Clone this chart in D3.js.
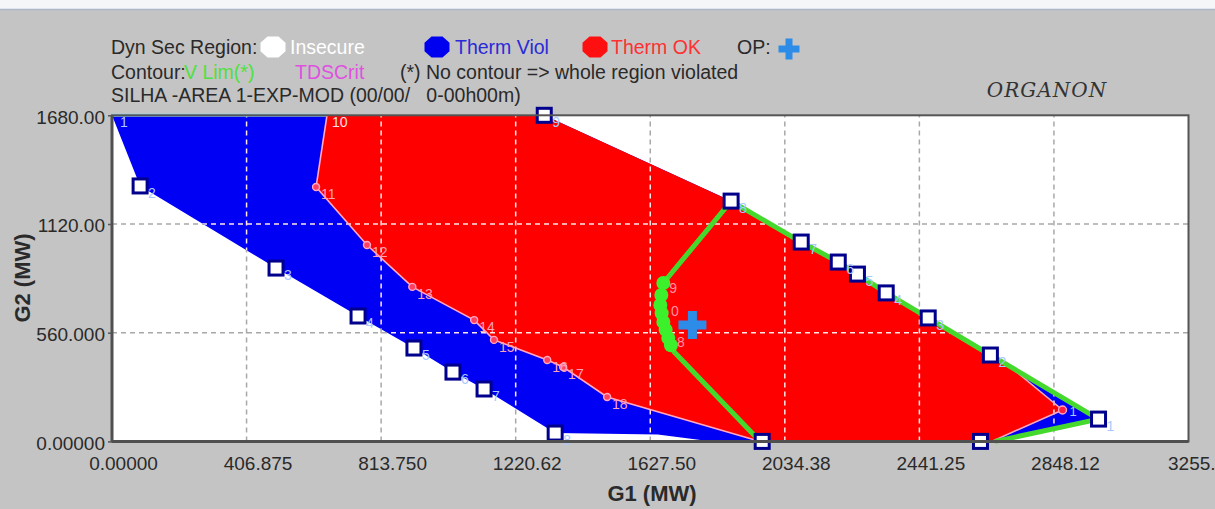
<!DOCTYPE html>
<html>
<head>
<meta charset="utf-8">
<script src="https://cdn.jsdelivr.net/npm/d3@7"></script>
<style>
  html, body { margin: 0; padding: 0; background: #c4c4c4; }
  svg { display: block; }
  text { font-family: "Liberation Sans", Arial, sans-serif; }
</style>
</head>
<body>
<script>
// ---- Axis ticks ----
const xTicks = [0, 406.875, 813.75, 1220.625, 1627.5, 2034.375, 2441.25, 2848.125, 3255];
const xTickLabels = ["0.00000", "406.875", "813.750", "1220.62", "1627.50", "2034.38", "2441.25", "2848.12", "3255."];
const yTicks = [0, 560, 1120, 1680];
const yTickLabels = ["0.00000", "560.000", "1120.00", "1680.00"];

// ---- Lower boundary of the secure region (insecure below/left), G1/G2 in MW ----
const stabG1 = [0, 85, 496, 744, 913, 1031, 1125, 1340, 1650, 1815, 1960];
const stabG2 = [1680, 1316, 893, 646, 481, 357, 270, 43, 35, 0, 0];

// ---- Upper boundary of the secure region, from the bottom-right corner to the top ----
const upperG1 = [2670, 2983, 2716, 2656, 2468, 2341, 2254, 2196, 2084, 1872, 1307];
const upperG2 = [0, 115, 385, 445, 636, 765, 862, 924, 1027, 1238, 1680];

// ---- Thermal limit (Therm Viol / Therm OK border) ----
const thermG1 = [650, 617, 771, 908, 1095, 1155, 1316, 1364, 1497, 1960];
const thermG2 = [1680, 1311, 1012, 796, 625, 523, 419, 383, 229, 0];
const thermLbl = ["10", "11", "12", "13", "14", "15", "16", "17", "18", ""];
const therm2G1 = [2660, 2874, 2716];
const therm2G2 = [0, 162, 385];

// ---- Voltage-limit contour ----
const vlimG1 = [1960, 1700, 1682, 1667, 1658, 1661, 1667, 1872, 2084, 2196, 2254, 2341, 2468, 2656, 2716, 2983, 2670];
const vlimG2 = [0, 461, 533, 615, 703, 754, 816, 1238, 1027, 924, 862, 765, 636, 445, 385, 115, 0];
const vdotG1 = [1667, 1661, 1658, 1662, 1667, 1674, 1682, 1690];
const vdotG2 = [816, 754, 703, 660, 615, 575, 533, 495];
const vLblG1 = [1667, 1672, 1690];
const vLblG2 = [816, 700, 540];
const vLbl = ["9", "0", "8"];

// ---- Boundary points (square markers) ----
const sqG1 = [85, 496, 744, 913, 1031, 1125, 1340, 1966, 2626, 2983, 2656, 2468, 2341, 2254, 2196, 2084, 1872, 1307];
const sqG2 = [1316, 893, 646, 481, 357, 270, 43, 0, 0, 115, 445, 636, 765, 862, 924, 1027, 1238, 1680];
const sqLbl = ["2", "3", "4", "5", "6", "7", "8", "", "", "1", "2", "3", "4", "5", "6", "7", "8", "9"];

// ---- Operating point ----
const opG1 = [1755];
const opG2 = [600];

const W = 1215, H = 509;
const svg = d3.select("body").append("svg").attr("width", W).attr("height", H);

const x = d3.scaleLinear().domain([0, 3255]).range([112, 1188.5]);
const y = d3.scaleLinear().domain([0, 1680]).range([441.4, 115.3]);
const pts = (gx, gy) => gx.map((v, i) => [x(v), y(gy[i])]);
const line = d3.line();

// window strip at the top
svg.append("rect").attr("x", 0).attr("y", 0).attr("width", W).attr("height", 9).attr("fill", "#f4f6f8");
svg.append("line").attr("x1", 0).attr("x2", W).attr("y1", 9.5).attr("y2", 9.5).attr("stroke", "#aab8c8").attr("stroke-width", 1.5);

// plot background
svg.append("rect").attr("x", x(0)).attr("y", y(1680)).attr("width", x(3255) - x(0)).attr("height", y(0) - y(1680)).attr("fill", "#ffffff");

// grid (grey on white)
const grid = svg.append("g");
function drawGrid(g, color) {
  g.selectAll(".gx").data(xTicks.slice(1, -1)).join("line")
    .attr("x1", d => x(d)).attr("x2", d => x(d)).attr("y1", y(0)).attr("y2", y(1680))
    .attr("stroke", color).attr("stroke-width", 1.5).attr("stroke-dasharray", "5,4");
  g.selectAll(".gy").data(yTicks.slice(1, -1)).join("line")
    .attr("x1", x(0)).attr("x2", x(3255)).attr("y1", d => y(d)).attr("y2", d => y(d))
    .attr("stroke", color).attr("stroke-width", 1.5).attr("stroke-dasharray", "5,4");
}
drawGrid(grid, "#a8a8a8");

// secure region outline (union of Therm Viol and Therm OK)
const outer = pts(stabG1, stabG2).concat(pts(upperG1, upperG2));
svg.append("clipPath").attr("id", "secure").append("path").attr("d", line(outer) + "Z");
svg.append("path").attr("d", line(outer) + "Z").attr("fill", "#0000f4");

// Therm OK region
const thermPts = pts(thermG1, thermG2);
const redPoly = thermPts
  .concat(pts(therm2G1, therm2G2))
  .concat(pts(upperG1.slice(3), upperG2.slice(3)));
svg.append("path").attr("d", line(redPoly) + "Z").attr("fill", "#ff0000");

// grid over the coloured regions
const grid2 = svg.append("g").attr("clip-path", "url(#secure)");
drawGrid(grid2, "#ffe8e8");

// insecure boundary along the top edge
svg.append("path").attr("d", line(pts([0, 650], [1680, 1680]))).attr("stroke", "#8cd4f4").attr("stroke-width", 3).attr("fill", "none");
svg.append("path").attr("d", line(pts([1650, 1815, 1960], [0, 0, 0]))).attr("stroke", "#8cd4f4").attr("stroke-width", 3).attr("fill", "none");

// thermal limit lines
svg.append("path").attr("d", line(thermPts)).attr("stroke", "#ffa8c0").attr("stroke-width", 1.6).attr("fill", "none");
svg.append("path").attr("d", line(pts(therm2G1, therm2G2))).attr("stroke", "#ffa8c0").attr("stroke-width", 1.6).attr("fill", "none");
svg.selectAll(".tdot").data(thermG1.slice(1, -1)).join("circle")
  .attr("cx", d => x(d)).attr("cy", (d, i) => y(thermG2[i + 1])).attr("r", 3.5)
  .attr("fill", "#ff4060").attr("stroke", "#ffa8c0").attr("stroke-width", 1.4);
svg.selectAll(".tlbl").data(thermLbl).join("text")
  .attr("x", (d, i) => x(thermG1[i]) + 5).attr("y", (d, i) => y(thermG2[i]) + 12)
  .attr("font-size", 14).attr("fill", (d, i) => i === 0 ? "#ffe0e8" : "#ffa0b8").text(d => d);
svg.append("circle").attr("cx", x(therm2G1[1])).attr("cy", y(therm2G2[1])).attr("r", 4)
  .attr("fill", "#ff2040").attr("stroke", "#ffa8c0").attr("stroke-width", 1.4);
svg.append("text").attr("x", x(therm2G1[1]) + 7).attr("y", y(therm2G2[1]) + 6)
  .attr("font-size", 13).attr("fill", "#a8c8ff").text("1");

// voltage-limit contour
svg.append("path").attr("d", line(pts(vlimG1, vlimG2))).attr("stroke", "#44d92c").attr("stroke-width", 5)
  .attr("stroke-linejoin", "round").attr("fill", "none");
svg.selectAll(".vdot").data(vdotG1).join("circle")
  .attr("cx", d => x(d)).attr("cy", (d, i) => y(vdotG2[i])).attr("r", 7).attr("fill", "#3cf02c");
svg.selectAll(".vlbl").data(vLbl).join("text")
  .attr("x", (d, i) => x(vLblG1[i]) + 6).attr("y", (d, i) => y(vLblG2[i]) + 10)
  .attr("font-size", 14).attr("fill", "#ff90a0").text(d => d);

// boundary point markers
svg.selectAll(".sq").data(sqG1).join("rect")
  .attr("x", d => x(d) - 7).attr("y", (d, i) => y(sqG2[i]) - 7).attr("width", 14).attr("height", 14)
  .attr("fill", "#ffffff").attr("stroke", "#00008c").attr("stroke-width", 3);
svg.selectAll(".sqlbl").data(sqLbl).join("text")
  .attr("x", (d, i) => x(sqG1[i]) + 8).attr("y", (d, i) => y(sqG2[i]) + 12)
  .attr("font-size", 14).attr("fill", "#a8c8ff").text(d => d);
svg.append("text").attr("x", x(0) + 8).attr("y", y(1680) + 12).attr("font-size", 14).attr("fill", "#a8c8ff").text("1");

// operating point
function crossPath(cx, cy, L, t) {
  const a = L / 2, b = t / 2;
  return `M${cx - b},${cy - a}H${cx + b}V${cy - b}H${cx + a}V${cy + b}H${cx + b}V${cy + a}H${cx - b}V${cy + b}H${cx - a}V${cy - b}H${cx - b}Z`;
}
svg.selectAll(".op").data(opG1).join("path")
  .attr("d", (d, i) => crossPath(x(d), y(opG2[i]), 28, 9)).attr("fill", "#2c8ce8");

// frame
svg.append("rect").attr("x", x(0)).attr("y", y(1680)).attr("width", x(3255) - x(0)).attr("height", y(0) - y(1680))
  .attr("fill", "none").attr("stroke", "#555555").attr("stroke-width", 2);
svg.append("line").attr("x1", x(0)).attr("x2", x(3255)).attr("y1", y(0)).attr("y2", y(0)).attr("stroke", "#505050").attr("stroke-width", 3);
svg.append("line").attr("x1", x(0)).attr("x2", x(0)).attr("y1", y(0)).attr("y2", y(1680)).attr("stroke", "#505050").attr("stroke-width", 3);

// axes
const xAxis = d3.axisBottom(x).tickValues(xTicks).tickSize(0).tickFormat((d, i) => xTickLabels[i]);
const gx = svg.append("g").attr("transform", `translate(0,${y(0)})`).call(xAxis);
gx.select(".domain").remove();
gx.selectAll("text").attr("font-size", 19).attr("fill", "#2a2a2a").attr("dx", 11).attr("dy", 0).attr("y", 29)
  .style("font-family", "'Liberation Sans', Arial, sans-serif");
// the last label sits against the window edge
gx.selectAll("text").filter((d, i) => i === xTicks.length - 1).attr("text-anchor", "start").attr("dx", -21);

const yAxis = d3.axisLeft(y).tickValues(yTicks).tickSize(4).tickPadding(3).tickFormat((d, i) => yTickLabels[i]);
const gy = svg.append("g").attr("transform", `translate(${x(0)},0)`).call(yAxis);
gy.select(".domain").remove();
gy.selectAll("line").attr("stroke", "#555555").attr("stroke-width", 1.5);
gy.selectAll("text").attr("font-size", 19).attr("fill", "#2a2a2a").attr("dy", "0.42em")
  .style("font-family", "'Liberation Sans', Arial, sans-serif");

// axis titles
svg.append("text").attr("x", 652).attr("y", 501).attr("text-anchor", "middle")
  .attr("font-size", 22).attr("font-weight", "bold").attr("fill", "#2a2a2a").text("G1 (MW)");
svg.append("text").attr("transform", "translate(30,278) rotate(-90)").attr("text-anchor", "middle")
  .attr("font-size", 22).attr("font-weight", "bold").attr("fill", "#2a2a2a").text("G2 (MW)");

// header / legend
function octagon(cx, cy, w, h) {
  const a = w / 2, b = h / 2, c = w * 0.28, d = h * 0.3;
  return [[cx - a + c, cy - b], [cx + a - c, cy - b], [cx + a, cy - b + d], [cx + a, cy + b - d],
          [cx + a - c, cy + b], [cx - a + c, cy + b], [cx - a, cy + b - d], [cx - a, cy - b + d]];
}
const legend = svg.append("g").attr("font-size", 19.5);
legend.append("text").attr("x", 111).attr("y", 54).attr("fill", "#2a2a2a").text("Dyn Sec Region:");
legend.append("path").attr("d", line(octagon(273, 47, 25, 21)) + "Z").attr("fill", "#ffffff");
legend.append("text").attr("x", 290).attr("y", 54).attr("fill", "#ffffff").text("Insecure");
legend.append("path").attr("d", line(octagon(437, 47, 25, 21)) + "Z").attr("fill", "#0000f0");
legend.append("text").attr("x", 455).attr("y", 54).attr("fill", "#2a2ad8").text("Therm Viol");
legend.append("path").attr("d", line(octagon(595, 47, 25, 21)) + "Z").attr("fill", "#ff1010");
legend.append("text").attr("x", 611).attr("y", 54).attr("fill", "#ff3030").text("Therm OK");
legend.append("text").attr("x", 737).attr("y", 54).attr("fill", "#2a2a2a").text("OP:");
legend.append("path").attr("d", crossPath(789, 49, 21, 7)).attr("fill", "#2c8ce8");

legend.append("text").attr("x", 111).attr("y", 79).attr("fill", "#2a2a2a").text("Contour:");
legend.append("text").attr("x", 184).attr("y", 79).attr("fill", "#50e040").text("V Lim(*)");
legend.append("text").attr("x", 295).attr("y", 79).attr("fill", "#e050e0").text("TDSCrit");
legend.append("text").attr("x", 400).attr("y", 79).attr("fill", "#2a2a2a").text("(*) No contour => whole region violated");

legend.append("text").attr("x", 111).attr("y", 102).attr("fill", "#2a2a2a").style("white-space", "pre")
  .text("SILHA -AREA 1-EXP-MOD (00/00/   0-00h00m)");

svg.append("text").attr("x", 1047).attr("y", 97).attr("text-anchor", "middle")
  .style("font-family", "'DejaVu Serif', 'Liberation Serif', serif").attr("font-style", "italic")
  .attr("letter-spacing", 1).attr("font-size", 20).attr("fill", "#333333").text("ORGANON");
</script>
</body>
</html>
